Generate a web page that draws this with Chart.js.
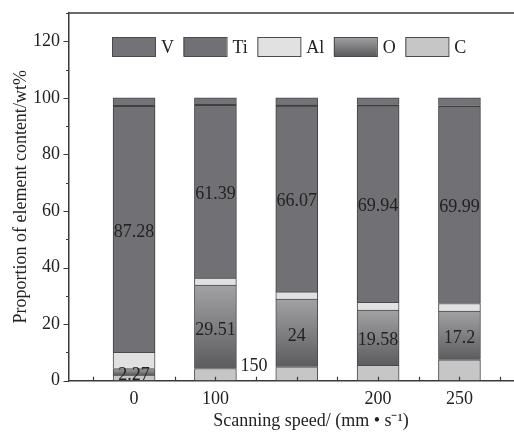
<!DOCTYPE html>
<html>
<head>
<meta charset="utf-8">
<title>Element content vs scanning speed</title>
<script src="https://cdn.jsdelivr.net/npm/chart.js@4.4.0/dist/chart.umd.min.js"></script>
<style>
  html, body { margin: 0; padding: 0; background: #fff; overflow: hidden; }
  #wrap { width: 560px; height: 437px; }
</style>
</head>
<body>
<div id="wrap"><canvas id="stack-chart" width="560" height="437"></canvas></div>
<script>
// scanning speeds (mm/s), one bar each
const categories = ['0', '100', '150', '200', '250'];

// wt% per element, stacked bottom -> top: C, O, Al, Ti, V
const valC = [2.0, 4.3, 4.9, 5.4, 7.4];
const valO = [2.27, 29.51, 24, 19.58, 17.2];
const valAl = [5.8, 2.5, 2.5, 2.7, 2.7];
const valTi = [87.28, 61.39, 66.07, 69.94, 69.99];
const valV = [2.65, 2.3, 2.53, 2.38, 2.71];

const yTicks = [0, 20, 40, 60, 80, 100, 120];

const SERIF = '"Liberation Serif", "Times New Roman", serif';
const TEXT = '#222';
const AXIS = '#3a3a3a';

Chart.defaults.font.family = SERIF;
Chart.defaults.font.size = 18;
Chart.defaults.color = TEXT;

// O segments are shaded light at the top to dark at the bottom
function oGradient(ctx, top, bottom) {
    const g = ctx.createLinearGradient(0, top, 0, bottom);
    g.addColorStop(0, '#a2a2a4');
    g.addColorStop(1, '#5c5c5f');
    return g;
}

function pts(arr) {
    return arr.map((v, i) => ({ x: i, y: v }));
}

const datasets = [
    { label: 'C', data: pts(valC), backgroundColor: '#c6c6c7' },
    {
        label: 'O',
        data: pts(valO),
        backgroundColor: (c) => {
            const y = c.chart.scales.y;
            if (c.type !== 'data' || !y) return '#808083';
            const i = c.dataIndex;
            const top = y.getPixelForValue(valC[i] + valO[i]);
            const bot = y.getPixelForValue(valC[i]);
            if (!isFinite(top) || !isFinite(bot)) return '#808083';
            return oGradient(c.chart.ctx, top, bot);
        }
    },
    { label: 'Al', data: pts(valAl), backgroundColor: '#e1e1e2' },
    { label: 'Ti', data: pts(valTi), backgroundColor: '#717175' },
    { label: 'V', data: pts(valV), backgroundColor: '#737377' }
];
datasets.forEach(d => {
    d.borderColor = '#4a4a4c';
    d.borderWidth = 1;
    d.barThickness = 42;
});
// darker seam between Ti and V
datasets[3].borderColor = '#404043';
datasets[3].borderWidth = { top: 2, left: 1, right: 1, bottom: 0 };

// frame, inward/outward ticks, value labels, legend
const decorPlugin = {
    id: 'decor',
    afterDatasetsDraw(chart) {
        const { ctx, chartArea: a, scales: { x, y } } = chart;
        ctx.save();

        ctx.strokeStyle = AXIS;
        ctx.lineWidth = 1.5;
        ctx.beginPath();
        ctx.moveTo(a.left, a.top);
        ctx.lineTo(a.right, a.top);
        ctx.lineTo(a.right, a.bottom);
        ctx.stroke();

        ctx.lineWidth = 1.2;
        ctx.beginPath();
        x.ticks.forEach(t => {
            const px = Math.round(x.getPixelForValue(t.value)) + 0.5;
            ctx.moveTo(px, a.bottom);
            ctx.lineTo(px, a.bottom - 4);
        });
        y.ticks.forEach(t => {
            const py = Math.round(y.getPixelForValue(t.value)) + 0.5;
            const len = yTicks.includes(t.value) ? 5.5 : 3;
            ctx.moveTo(a.left, py);
            ctx.lineTo(a.left - len, py);
        });
        ctx.stroke();

        // numbers inside the O and Ti segments
        ctx.font = '18px ' + SERIF;
        ctx.fillStyle = TEXT;
        ctx.textAlign = 'center';
        ctx.textBaseline = 'middle';
        [[1, valO], [3, valTi]].forEach(([di, vals]) => {
            chart.getDatasetMeta(di).data.forEach((bar, i) => {
                const p = bar.getProps(['x', 'y', 'base'], true);
                ctx.fillText(String(vals[i]), p.x, (p.y + p.base) / 2 + 3);
            });
        });

        // the 150 label sits up beside its neighbour, as in the figure
        ctx.fillText(categories[2], x.getPixelForValue(1.5) - 2, a.bottom - 14);

        // legend inside the top of the plot, top stack first
        let lx = a.left + 43;
        const ly = a.top + 24;
        const bw = 43, bh = 19;
        ctx.textAlign = 'left';
        for (let di = datasets.length - 1; di >= 0; di--) {
            const ds = datasets[di];
            ctx.fillStyle = ds.label === 'O' ? oGradient(ctx, ly, ly + bh) : ds.backgroundColor;
            ctx.fillRect(lx, ly, bw, bh);
            ctx.strokeStyle = '#4a4a4c';
            ctx.lineWidth = 1;
            ctx.strokeRect(lx + 0.5, ly + 0.5, bw, bh);
            lx += bw + 6;
            ctx.fillStyle = TEXT;
            ctx.fillText(ds.label, lx, ly + bh / 2 + 2);
            lx += ctx.measureText(ds.label).width + 9.5;
        }

        ctx.restore();
    }
};

new Chart(document.getElementById('stack-chart'), {
    type: 'bar',
    data: { datasets: datasets },
    options: {
        responsive: false,
        animation: false,
        devicePixelRatio: 1,
        layout: { padding: { top: 13, right: 7, left: 0, bottom: 0 } },
        plugins: {
            legend: { display: false },
            tooltip: { enabled: false }
        },
        scales: {
            x: {
                type: 'linear',
                stacked: true,
                offset: false,
                min: -0.8,
                max: 5.15,
                afterFit: (s) => { s.height = 56.3; s.paddingLeft = 0; s.paddingRight = 0; },
                grid: { drawOnChartArea: false, drawTicks: false, offset: false },
                border: { color: AXIS, width: 1.5 },
                ticks: {
                    stepSize: 0.5,
                    maxTicksLimit: 20,
                    includeBounds: false,
                    autoSkip: false,
                    maxRotation: 0,
                    padding: 8,
                    callback: (v) => (Number.isInteger(v) && v >= 0 && v < categories.length && v !== 2) ? categories[v] : ''
                },
                title: {
                    display: true,
                    text: 'Scanning speed/ (mm • s⁻¹)',
                    padding: { top: 0, bottom: 4.5 }
                }
            },
            y: {
                stacked: true,
                min: 0,
                max: 130,
                afterFit: (s) => { s.width = 69; s.paddingTop = 0; s.paddingBottom = 0; },
                grid: { drawOnChartArea: false, drawTicks: false },
                border: { color: AXIS, width: 1.5 },
                ticks: {
                    stepSize: 10,
                    maxTicksLimit: 20,
                    autoSkip: false,
                    padding: 9,
                    callback: (v) => yTicks.includes(v) ? String(v) : ''
                },
                title: {
                    display: true,
                    text: 'Proportion of element content/wt%',
                    padding: { top: 10, bottom: 0 }
                }
            }
        }
    },
    plugins: [decorPlugin]
});
</script>
</body>
</html>
